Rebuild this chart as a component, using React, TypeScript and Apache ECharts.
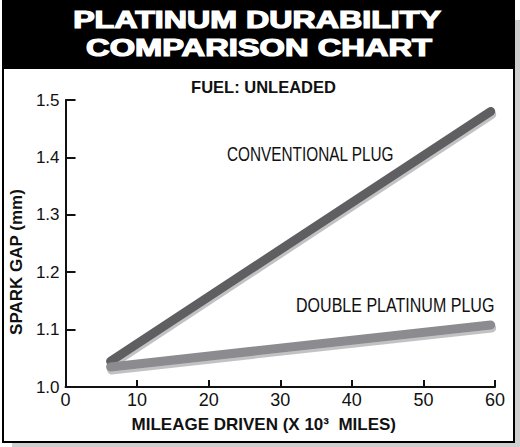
import React, { useEffect, useRef } from "react";
import * as echarts from "echarts";

const titleLines = ["PLATINUM DURABILITY", "COMPARISON CHART"];
const subtitle = "FUEL: UNLEADED";
const mileage = [6.3, 59.4];
const conventionalGap = [1.045, 1.48];
const doublePlatinumGap = [1.035, 1.108];
const seriesNames = ["CONVENTIONAL PLUG", "DOUBLE PLATINUM PLUG"];
const xTitle = "MILEAGE DRIVEN (X 10\u00b3\u00a0\u00a0MILES)";
const yTitle = "SPARK GAP (mm)";

const FONT = "'Liberation Sans', Arial, Helvetica, sans-serif";

export default function App() {
  const ref = useRef<HTMLDivElement>(null);
  useEffect(() => {
    if (!ref.current) return;
    const chart = echarts.init(ref.current, undefined, { renderer: "svg" });
    const conv = mileage.map((x, i) => [x, conventionalGap[i]]);
    const dbl = mileage.map((x, i) => [x, doublePlatinumGap[i]]);
    chart.setOption({
      animation: false,
      textStyle: { fontFamily: FONT },
      grid: { left: 63, right: 25, top: 100, bottom: 60, containLabel: false },
      xAxis: {
        type: "value",
        min: 0,
        max: 60,
        interval: 10,
        name: xTitle,
        nameLocation: "middle",
        nameGap: 29,
        nameTextStyle: {
          fontFamily: FONT,
          fontSize: 17,
          fontWeight: "bold",
          color: "#111",
          padding: [0, 33, 0, 0],
        },
        axisLine: { show: true, lineStyle: { color: "#111", width: 2 } },
        axisTick: { show: true, inside: true, length: 7, lineStyle: { color: "#111", width: 2 } },
        axisLabel: { color: "#111", fontSize: 18, margin: 4, fontFamily: FONT },
        splitLine: { show: false },
      },
      yAxis: {
        type: "value",
        min: 1.0,
        max: 1.5,
        interval: 0.1,
        name: yTitle,
        nameLocation: "middle",
        nameGap: 32,
        nameRotate: 90,
        nameTextStyle: {
          fontFamily: FONT,
          fontSize: 17,
          fontWeight: "bold",
          color: "#111",
          padding: [0, 37, 0, 0],
        },
        axisLine: { show: true, lineStyle: { color: "#111", width: 2 } },
        axisTick: { show: true, inside: true, length: 10, lineStyle: { color: "#111", width: 2 } },
        axisLabel: {
          color: "#111",
          fontSize: 17,
          margin: 6,
          fontFamily: FONT,
          formatter: (v: number) => v.toFixed(1),
        },
        splitLine: { show: false },
      },
      series: [
        {
          name: seriesNames[0],
          type: "line",
          data: conv,
          symbol: "none",
          lineStyle: {
            width: 9,
            color: "#5e5e62",
            cap: "round",
            shadowColor: "#c2c2c4",
            shadowOffsetX: 1,
            shadowOffsetY: 3,
            shadowBlur: 0,
          },
          z: 2,
        },
        {
          name: seriesNames[1],
          type: "line",
          data: dbl,
          symbol: "none",
          lineStyle: {
            width: 9,
            color: "#8c8c90",
            cap: "round",
            shadowColor: "#c2c2c4",
            shadowOffsetX: 1,
            shadowOffsetY: 3,
            shadowBlur: 0,
          },
          z: 3,
        },
      ],
      graphic: [
        {
          type: "text",
          x: 257,
          y: 20,
          scaleX: 1.4,
          z: 10,
          style: {
            text: titleLines[0],
            fill: "#fff",
            stroke: "#fff",
            lineWidth: 1.2,
            font: `bold 23px ${FONT}`,
            align: "center",
            verticalAlign: "middle",
          },
        },
        {
          type: "text",
          x: 259,
          y: 48,
          scaleX: 1.42,
          z: 10,
          style: {
            text: titleLines[1],
            fill: "#fff",
            stroke: "#fff",
            lineWidth: 1.2,
            font: `bold 23px ${FONT}`,
            align: "center",
            verticalAlign: "middle",
          },
        },
        {
          type: "text",
          x: 263.5,
          y: 87,
          z: 10,
          style: {
            text: subtitle,
            fill: "#111",
            font: `bold 16.5px ${FONT}`,
            align: "center",
            verticalAlign: "middle",
          },
        },
        {
          type: "text",
          x: 227,
          y: 154,
          scaleX: 0.787,
          z: 10,
          style: {
            text: seriesNames[0],
            fill: "#111",
            font: `19.5px ${FONT}`,
            align: "left",
            verticalAlign: "middle",
          },
        },
        {
          type: "text",
          x: 296,
          y: 305.5,
          scaleX: 0.823,
          z: 10,
          style: {
            text: seriesNames[1],
            fill: "#111",
            font: `19.5px ${FONT}`,
            align: "left",
            verticalAlign: "middle",
          },
        },
      ],
    });
    return () => chart.dispose();
  }, []);

  return (
    <div
      style={{
        position: "fixed",
        left: 0,
        top: 0,
        width: 520,
        height: 447,
        background: "#fff",
        overflow: "hidden",
      }}
    >
      <div style={{ position: "absolute", left: 12, top: 20, width: 508, height: 427, background: "#cfcfcf" }} />
      <div
        style={{
          position: "absolute",
          left: 2,
          top: 0,
          width: 513,
          height: 443,
          border: "2px solid #000",
          boxSizing: "border-box",
          background: "#fff",
        }}
      />
      <div style={{ position: "absolute", left: 2, top: 0, width: 513, height: 69, background: "#000" }} />
      <div ref={ref} style={{ position: "absolute", left: 0, top: 0, width: 520, height: 447 }} />
    </div>
  );
}
